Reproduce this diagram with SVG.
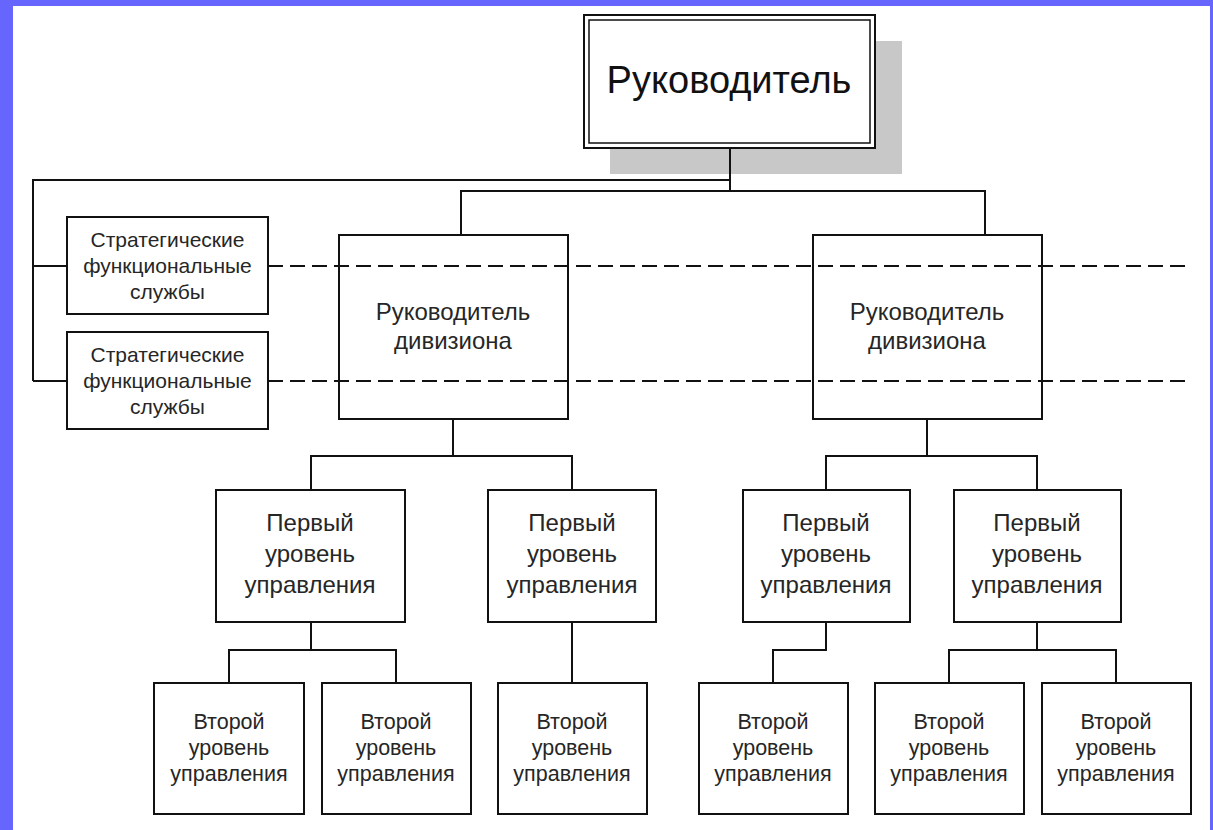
<svg xmlns="http://www.w3.org/2000/svg" width="1213" height="830" viewBox="0 0 1213 830">
<style>
.box{fill:#fff;stroke:#111;stroke-width:2}
.ln{fill:none;stroke:#111;stroke-width:2}
.dash{fill:none;stroke:#111;stroke-width:2.2;stroke-dasharray:15 7}
text{font-family:"Liberation Sans",Arial,sans-serif;fill:#262626;text-anchor:middle}
.t1{font-size:38px;fill:#111}
.t2{font-size:24px}
.t3{font-size:21px}
.t4{font-size:24px}
.t5{font-size:21.5px}
</style>
<rect x="0" y="0" width="1213" height="830" fill="#6666ff"/>
<rect x="13" y="6" width="1197" height="824" fill="#fff"/>

<g id="n-head">
<rect x="610" y="41" width="292" height="133" fill="#c8c8c8"/>
<rect x="584" y="15" width="291" height="133" class="box"/>
<rect x="589" y="20" width="281" height="123" fill="none" stroke="#111" stroke-width="1.5"/>
<text x="729" y="93" class="t1">Руководитель</text>
</g>

<g id="n-strat1">
<rect x="67" y="217" width="201" height="97" class="box"/>
<text class="t3" x="167.5"><tspan x="167.5" y="247">Стратегические</tspan><tspan x="167.5" y="273">функциональные</tspan><tspan x="167.5" y="299">службы</tspan></text>
</g>
<g id="n-strat2">
<rect x="67" y="332" width="201" height="97" class="box"/>
<text class="t3" x="167.5"><tspan x="167.5" y="362">Стратегические</tspan><tspan x="167.5" y="388">функциональные</tspan><tspan x="167.5" y="414">службы</tspan></text>
</g>

<g id="n-div1">
<rect x="339" y="235" width="229" height="184" class="box"/>
<text class="t2" x="453"><tspan x="453" y="320">Руководитель</tspan><tspan x="453" y="349">дивизиона</tspan></text>
</g>
<g id="n-div2">
<rect x="813" y="235" width="229" height="184" class="box"/>
<text class="t2" x="927"><tspan x="927" y="320">Руководитель</tspan><tspan x="927" y="349">дивизиона</tspan></text>
</g>

<g id="n-l1a">
<rect x="216" y="490" width="189" height="132" class="box"/>
<text class="t4" x="310"><tspan x="310" y="531">Первый</tspan><tspan x="310" y="562">уровень</tspan><tspan x="310" y="593">управления</tspan></text>
</g>
<g id="n-l1b">
<rect x="488" y="490" width="168" height="132" class="box"/>
<text class="t4" x="572"><tspan x="572" y="531">Первый</tspan><tspan x="572" y="562">уровень</tspan><tspan x="572" y="593">управления</tspan></text>
</g>
<g id="n-l1c">
<rect x="743" y="490" width="167" height="132" class="box"/>
<text class="t4" x="826"><tspan x="826" y="531">Первый</tspan><tspan x="826" y="562">уровень</tspan><tspan x="826" y="593">управления</tspan></text>
</g>
<g id="n-l1d">
<rect x="954" y="490" width="167" height="132" class="box"/>
<text class="t4" x="1037"><tspan x="1037" y="531">Первый</tspan><tspan x="1037" y="562">уровень</tspan><tspan x="1037" y="593">управления</tspan></text>
</g>

<g id="n-l2a">
<rect x="154" y="683" width="150" height="131" class="box"/>
<text class="t5" x="229"><tspan x="229" y="729">Второй</tspan><tspan x="229" y="755">уровень</tspan><tspan x="229" y="781">управления</tspan></text>
</g>
<g id="n-l2b">
<rect x="322" y="683" width="149" height="131" class="box"/>
<text class="t5" x="396"><tspan x="396" y="729">Второй</tspan><tspan x="396" y="755">уровень</tspan><tspan x="396" y="781">управления</tspan></text>
</g>
<g id="n-l2c">
<rect x="498" y="683" width="149" height="131" class="box"/>
<text class="t5" x="572"><tspan x="572" y="729">Второй</tspan><tspan x="572" y="755">уровень</tspan><tspan x="572" y="781">управления</tspan></text>
</g>
<g id="n-l2d">
<rect x="699" y="683" width="149" height="131" class="box"/>
<text class="t5" x="773"><tspan x="773" y="729">Второй</tspan><tspan x="773" y="755">уровень</tspan><tspan x="773" y="781">управления</tspan></text>
</g>
<g id="n-l2e">
<rect x="875" y="683" width="149" height="131" class="box"/>
<text class="t5" x="949"><tspan x="949" y="729">Второй</tspan><tspan x="949" y="755">уровень</tspan><tspan x="949" y="781">управления</tspan></text>
</g>
<g id="n-l2f">
<rect x="1042" y="683" width="149" height="131" class="box"/>
<text class="t5" x="1116"><tspan x="1116" y="729">Второй</tspan><tspan x="1116" y="755">уровень</tspan><tspan x="1116" y="781">управления</tspan></text>
</g>

<g id="connectors">
<path class="ln" d="M730 148V191M730 180H33V381M33 266H67M33 381H67"/>
<path class="ln" d="M461 235V191H985V235"/>
<path class="ln" d="M453 419V456M311 490V456H572V490"/>
<path class="ln" d="M927 419V456M826 490V456H1037V490"/>
<path class="ln" d="M311 622V650M229 683V650H396V683"/>
<path class="ln" d="M572 622V683"/>
<path class="ln" d="M826 622V650H773V683"/>
<path class="ln" d="M1037 622V650M949 683V650H1116V683"/>
<path class="dash" d="M268 266H1185M268 381H1185"/>
</g>
</svg>
